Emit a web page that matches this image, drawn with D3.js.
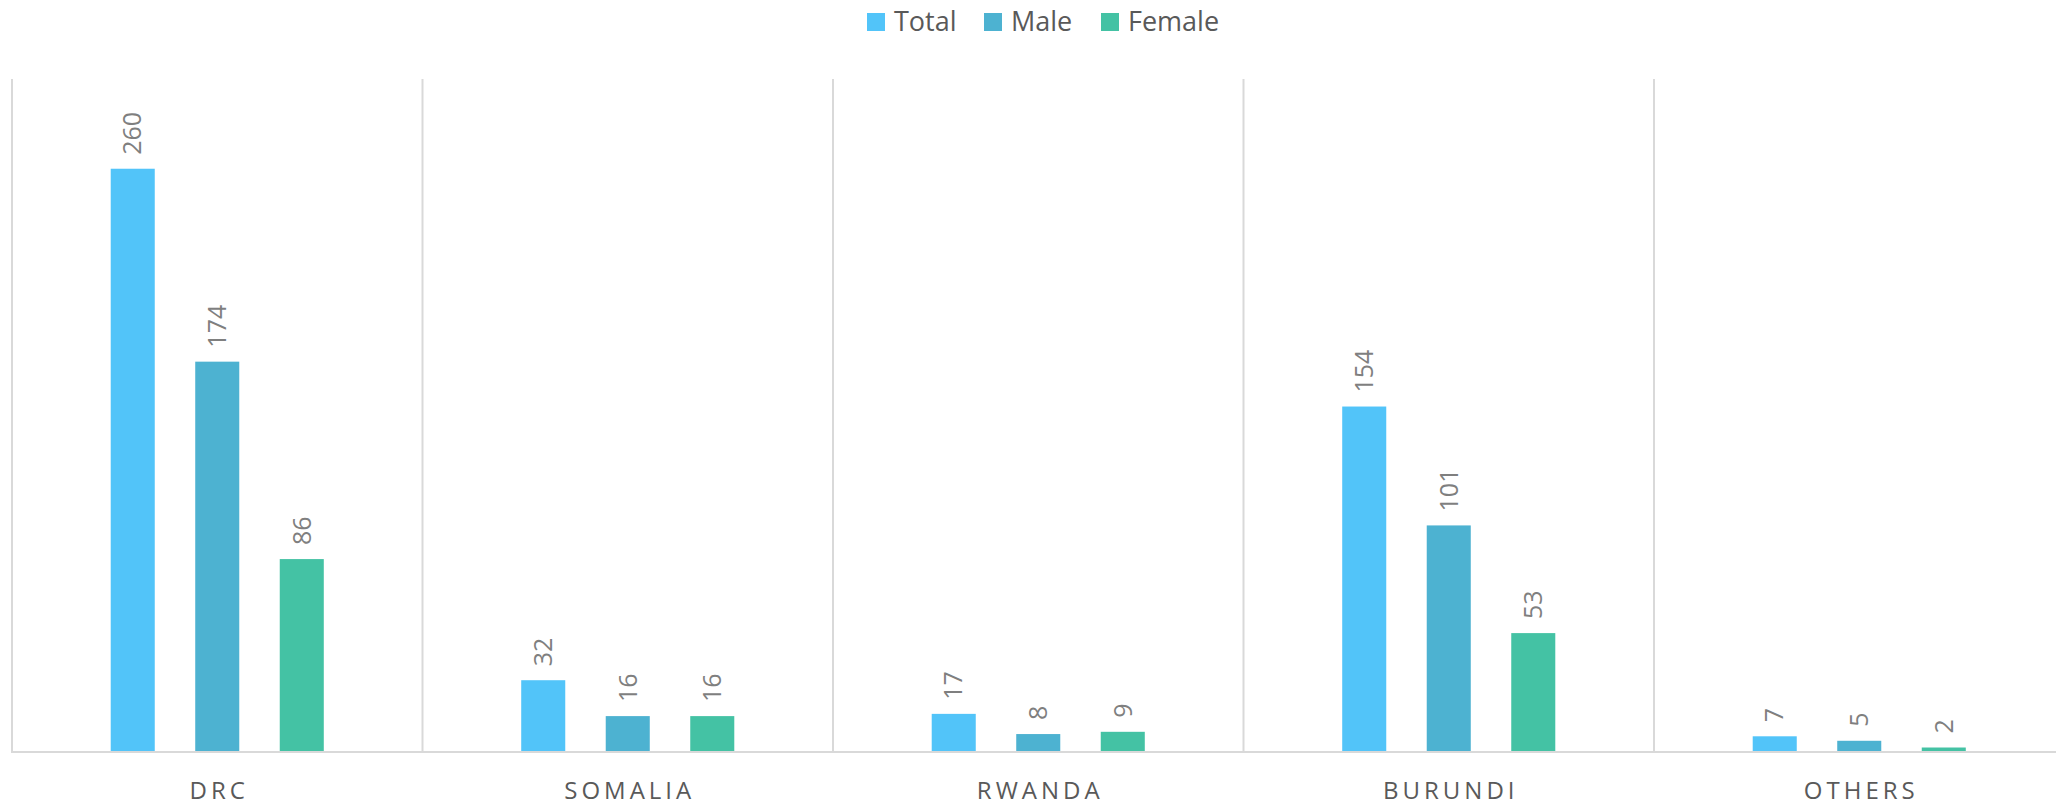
<!DOCTYPE html>
<meta charset="utf-8">
<style>
body { margin: 0; background: #fff; }
svg { font-family: "Open Sans", "Liberation Sans", sans-serif; }
.sep line { stroke: #d9d9d9; stroke-width: 2px; }
.vals text { fill: #7f7f7f; font-size: 25px; }
.cats text { fill: #595959; font-size: 24px; letter-spacing: 4px; }
.legend text { fill: #595959; font-size: 27px; }
</style>
<svg width="2056" height="805"></svg>
<script src="https://d3js.org/d3.v7.min.js"></script>
<script>

var categories = ["DRC", "SOMALIA", "RWANDA", "BURUNDI", "OTHERS"];
var seriesNames = ["Total", "Male", "Female"];
var totalVals = [260, 32, 17, 154, 7];
var maleVals = [174, 16, 8, 101, 5];
var femaleVals = [86, 16, 9, 53, 2];
var colors = ["#52c4f9", "#4db2d1", "#44c2a4"];

var svg = d3.select("svg");

var plotLeft = 12, plotTop = 79, plotBottom = 752, catW = 410.5;

var x0 = d3.scaleBand()
    .domain(categories)
    .range([plotLeft, plotLeft + catW * categories.length]);

var x1 = d3.scaleBand()
    .domain(seriesNames)
    .range([0, catW])
    .paddingInner(0.479)
    .paddingOuter(1.168);

var y = d3.scaleLinear().domain([0, 300]).range([plotBottom, plotTop]);

var color = d3.scaleOrdinal().domain(seriesNames).range(colors);

var rows = [];
categories.forEach(function (c, i) {
    rows.push({ cat: c, s: "Total", v: totalVals[i] });
    rows.push({ cat: c, s: "Male", v: maleVals[i] });
    rows.push({ cat: c, s: "Female", v: femaleVals[i] });
});

// separators between categories
svg.append("g").attr("class", "sep")
    .selectAll("line")
    .data(categories)
    .enter().append("line")
    .attr("x1", function (d) { return x0(d); })
    .attr("x2", function (d) { return x0(d); })
    .attr("y1", plotTop)
    .attr("y2", plotBottom);

svg.append("g").attr("class", "sep")
    .append("line")
    .attr("x1", plotLeft - 1).attr("x2", 2056)
    .attr("y1", plotBottom).attr("y2", plotBottom);

svg.append("g")
    .selectAll("rect")
    .data(rows)
    .enter().append("rect")
    .attr("x", function (d) { return x0(d.cat) + x1(d.s); })
    .attr("width", x1.bandwidth())
    .attr("y", function (d) { return y(d.v); })
    .attr("height", function (d) { return y(0) - y(d.v) - 1; })
    .attr("fill", function (d) { return color(d.s); });

svg.append("g").attr("class", "vals")
    .selectAll("text")
    .data(rows)
    .enter().append("text")
    .attr("transform", function (d) {
        var cx = x0(d.cat) + x1(d.s) + x1.bandwidth() / 2;
        return "translate(" + cx + "," + (y(d.v) - 14) + ") rotate(-90)";
    })
    .attr("dy", "0.35em")
    .text(function (d) { return d.v; });

svg.append("g").attr("class", "cats")
    .selectAll("text")
    .data(categories)
    .enter().append("text")
    .attr("x", function (d) { return x0(d) + catW / 2 + 2; })
    .attr("y", 799)
    .attr("text-anchor", "middle")
    .text(function (d) { return d; });

// legend
var legendX = [867, 984, 1101];
var lg = svg.append("g").attr("class", "legend")
    .selectAll("g")
    .data(seriesNames)
    .enter().append("g")
    .attr("transform", function (d, i) { return "translate(" + legendX[i] + ",0)"; });

lg.append("rect")
    .attr("x", 0).attr("y", 13)
    .attr("width", 18).attr("height", 18)
    .attr("fill", function (d) { return color(d); });

lg.append("text")
    .attr("x", 27).attr("y", 31)
    .text(function (d) { return d; });

</script>
